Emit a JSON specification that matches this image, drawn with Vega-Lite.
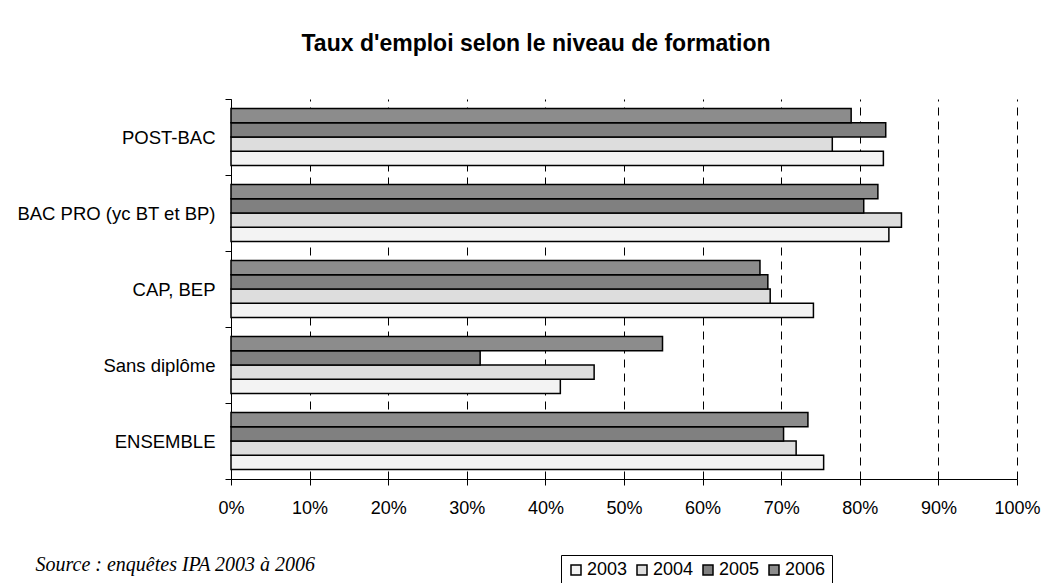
{
  "$schema": "https://vega.github.io/schema/vega-lite/v6.json",
  "width": 786,
  "height": 380,
  "autosize": {"type": "none"},
  "padding": {"left": 231, "top": 99, "right": 33, "bottom": 104},
  "background": "white",
  "title": {
    "text": "Taux d'emploi selon le niveau de formation",
    "font": "Liberation Sans",
    "fontSize": 23,
    "fontWeight": "bold",
    "color": "black",
    "anchor": "middle",
    "dx": -88,
    "baseline": "alphabetic",
    "offset": 16
  },
  "data": {
    "values": [
      {"niveau": "POST-BAC", "annee": "2003", "taux": 83.0},
      {"niveau": "POST-BAC", "annee": "2004", "taux": 76.5},
      {"niveau": "POST-BAC", "annee": "2005", "taux": 83.3},
      {"niveau": "POST-BAC", "annee": "2006", "taux": 78.9},
      {"niveau": "BAC PRO (yc BT et BP)", "annee": "2003", "taux": 83.7},
      {"niveau": "BAC PRO (yc BT et BP)", "annee": "2004", "taux": 85.3},
      {"niveau": "BAC PRO (yc BT et BP)", "annee": "2005", "taux": 80.5},
      {"niveau": "BAC PRO (yc BT et BP)", "annee": "2006", "taux": 82.3},
      {"niveau": "CAP, BEP", "annee": "2003", "taux": 74.1},
      {"niveau": "CAP, BEP", "annee": "2004", "taux": 68.6},
      {"niveau": "CAP, BEP", "annee": "2005", "taux": 68.3},
      {"niveau": "CAP, BEP", "annee": "2006", "taux": 67.3},
      {"niveau": "Sans diplôme", "annee": "2003", "taux": 41.9},
      {"niveau": "Sans diplôme", "annee": "2004", "taux": 46.2},
      {"niveau": "Sans diplôme", "annee": "2005", "taux": 31.7},
      {"niveau": "Sans diplôme", "annee": "2006", "taux": 54.9},
      {"niveau": "ENSEMBLE", "annee": "2003", "taux": 75.4},
      {"niveau": "ENSEMBLE", "annee": "2004", "taux": 71.9},
      {"niveau": "ENSEMBLE", "annee": "2005", "taux": 70.3},
      {"niveau": "ENSEMBLE", "annee": "2006", "taux": 73.4}
    ]
  },
  "mark": {"type": "bar", "stroke": "black", "strokeWidth": 1.5},
  "encoding": {
    "y": {
      "field": "niveau",
      "type": "nominal",
      "sort": ["POST-BAC", "BAC PRO (yc BT et BP)", "CAP, BEP", "Sans diplôme", "ENSEMBLE"],
      "scale": {"paddingInner": 0, "paddingOuter": 0},
      "axis": {
        "title": null,
        "tickBand": "extent",
        "tickSize": 6,
        "tickColor": "black",
        "domainColor": "black",
        "labelFont": "Liberation Sans",
        "labelFontSize": 18.5,
        "labelColor": "black",
        "labelPadding": 10,
        "labelLimit": 300,
        "grid": false
      }
    },
    "yOffset": {
      "field": "annee",
      "type": "nominal",
      "sort": "descending",
      "scale": {"paddingInner": 0, "paddingOuter": 0.667}
    },
    "x": {
      "field": "taux",
      "type": "quantitative",
      "scale": {"domain": [0, 100], "nice": false},
      "axis": {
        "values": [0, 10, 20, 30, 40, 50, 60, 70, 80, 90, 100],
        "labelExpr": "datum.value + '%'",
        "labelFlush": false,
        "grid": true,
        "gridDash": [8, 6],
        "gridColor": "black",
        "gridOpacity": 1,
        "gridWidth": 1,
        "domainColor": "black",
        "tickColor": "black",
        "tickSize": 6,
        "labelFont": "Liberation Sans",
        "labelFontSize": 18,
        "labelColor": "black",
        "labelPadding": 14,
        "title": "Source : enquêtes IPA 2003 à 2006",
        "titleFont": "Liberation Serif",
        "titleFontStyle": "italic",
        "titleFontWeight": "normal",
        "titleFontSize": 20,
        "titleColor": "black",
        "titleAnchor": "start",
        "titleAlign": "left",
        "titleBaseline": "alphabetic",
        "titleX": -196,
        "titleY": 91
      }
    },
    "color": {
      "field": "annee",
      "type": "nominal",
      "scale": {
        "domain": ["2003", "2004", "2005", "2006"],
        "range": ["#f3f3f3", "#dddddd", "#808080", "#8c8c8c"]
      },
      "legend": {
        "title": null,
        "orient": "none",
        "legendX": 330,
        "legendY": 456,
        "direction": "horizontal",
        "strokeColor": "black",
        "fillColor": "white",
        "padding": 6,
        "symbolType": "square",
        "symbolSize": 100,
        "symbolStrokeColor": "black",
        "symbolStrokeWidth": 1.5,
        "symbolOpacity": 1,
        "labelFont": "Liberation Sans",
        "labelFontSize": 18,
        "labelColor": "black",
        "labelOffset": 2,
        "columnPadding": 5
      }
    }
  },
  "config": {"view": {"stroke": null}}
}
